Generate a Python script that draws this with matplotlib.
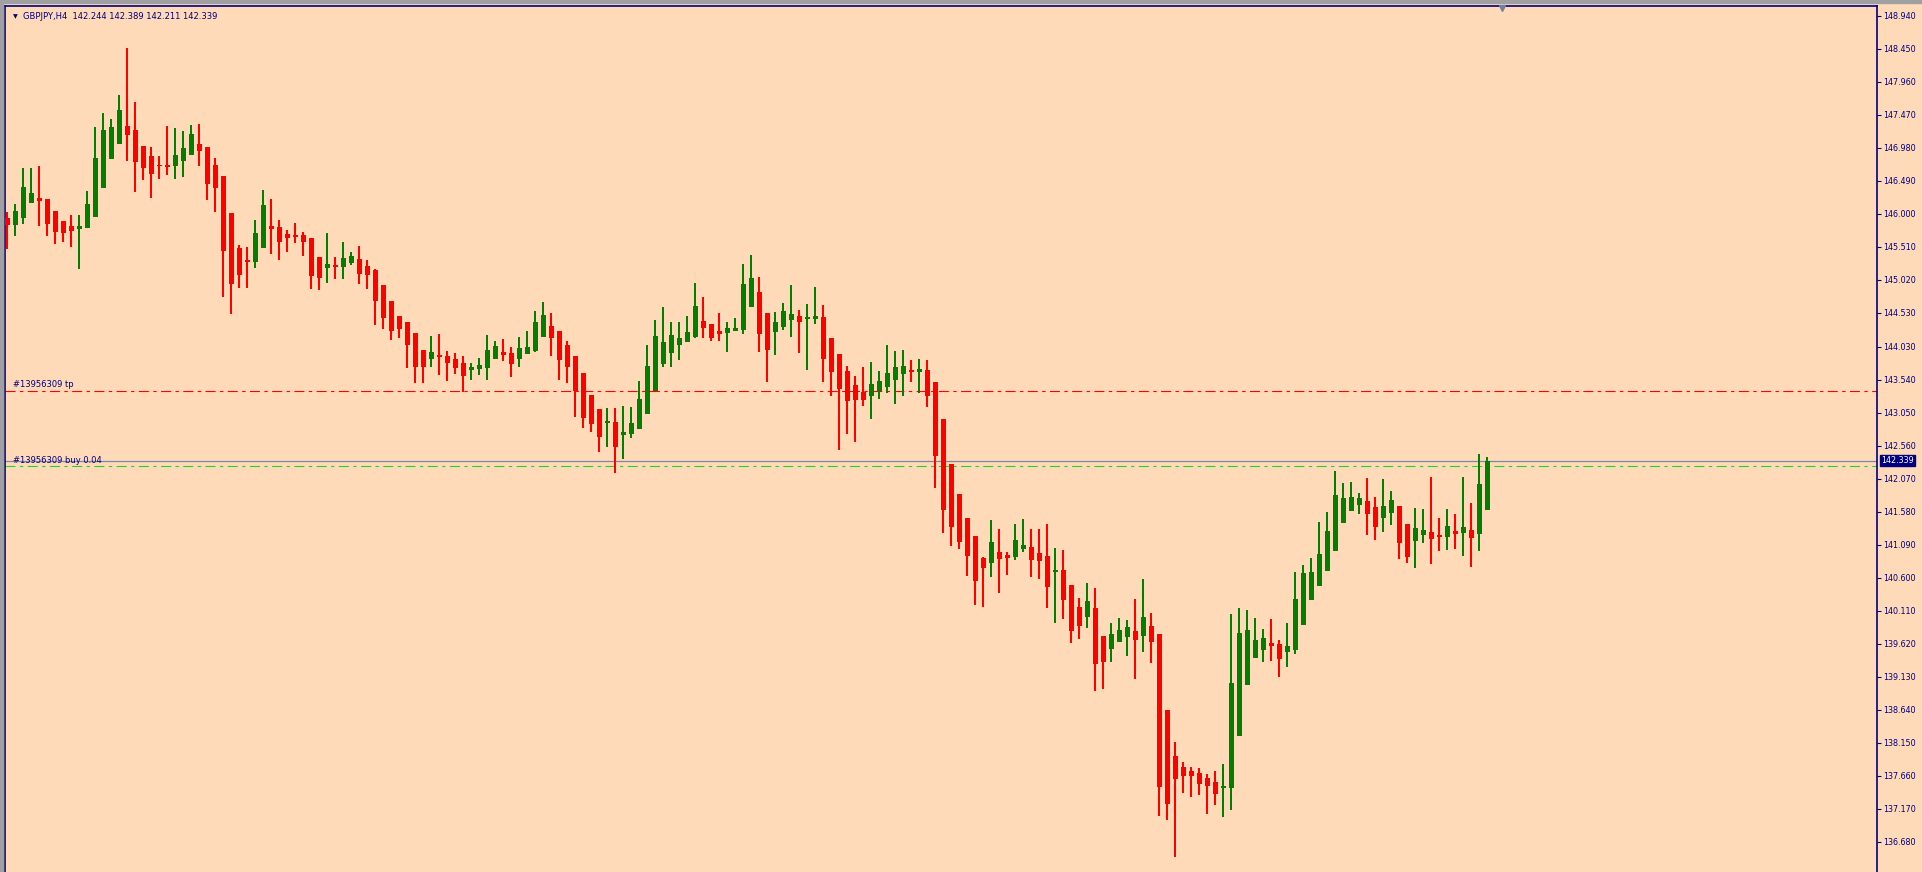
import matplotlib
matplotlib.use("Agg")
import matplotlib.pyplot as plt
import matplotlib.transforms as mtransforms
from matplotlib.patches import Rectangle
import numpy as np

# GBPJPY H4 candles
opens = [
    145.936, 145.837, 145.946, 146.168, 146.238, 146.223, 146.045, 145.896, 145.822, 145.777,
    145.797, 145.961, 146.391, 146.822, 147.044, 147.307, 147.247, 147.010, 146.861, 146.733,
    146.733, 146.718, 146.792, 146.881, 147.039, 146.995, 146.728, 146.564, 146.015, 145.495,
    145.307, 145.292, 145.500, 145.822, 145.807, 145.703, 145.688, 145.688, 145.644, 145.362,
    145.203, 145.243, 145.218, 145.278, 145.332, 145.228, 145.169, 144.946, 144.709, 144.486,
    144.397, 144.234, 143.981, 143.853, 143.907, 143.892, 143.848, 143.788, 143.689, 143.699,
    143.719, 143.853, 143.952, 143.937, 143.853, 143.927, 143.971, 144.174, 144.338, 144.263,
    144.056, 143.892, 143.640, 143.313, 143.105, 142.902, 142.912, 142.724, 142.739, 142.813,
    143.036, 143.378, 143.778, 143.942, 144.061, 144.105, 144.179, 144.411, 144.367, 144.263,
    144.238, 144.268, 144.283, 144.624, 144.842, 144.530, 144.253, 144.327, 144.431, 144.486,
    144.446, 144.446, 144.471, 144.159, 143.921, 143.669, 143.461, 143.357, 143.303, 143.377,
    143.436, 143.540, 143.629, 143.684, 143.659, 143.684, 143.510, 142.956, 142.288, 141.842,
    141.486, 141.219, 140.892, 140.823, 140.981, 140.937, 140.912, 141.031, 141.056, 140.966,
    140.922, 140.689, 140.714, 140.491, 140.165, 140.021, 140.150, 139.735, 139.547, 139.651,
    139.725, 139.809, 139.740, 139.883, 139.764, 138.636, 137.953, 137.790, 137.730, 137.701,
    137.626, 137.572, 137.483, 137.483, 138.255, 139.012, 139.413, 139.532, 139.631, 139.616,
    139.502, 139.532, 139.903, 140.274, 140.482, 140.705, 141.002, 141.418, 141.596, 141.685,
    141.739, 141.650, 141.492, 141.566, 141.665, 141.398, 141.150, 141.239, 141.279, 141.235,
    141.210, 141.294, 141.269, 141.309, 141.254, 141.611,
]
highs = [
    146.035, 146.154, 146.688, 146.688, 146.718, 146.223, 146.045, 145.896, 145.985, 145.985,
    146.342, 147.292, 147.500, 147.411, 147.767, 148.465, 147.663, 147.010, 146.995, 146.861,
    147.307, 147.277, 147.232, 147.321, 147.336, 146.995, 146.832, 146.564, 146.015, 145.540,
    145.510, 145.911, 146.357, 146.223, 145.911, 145.763, 145.866, 145.733, 145.644, 145.362,
    145.718, 145.362, 145.584, 145.436, 145.525, 145.317, 145.183, 144.946, 144.709, 144.486,
    144.397, 144.234, 143.981, 144.189, 144.219, 143.966, 143.937, 143.892, 143.788, 143.863,
    144.204, 144.115, 144.145, 144.026, 144.174, 144.263, 144.560, 144.694, 144.531, 144.263,
    144.115, 143.892, 143.640, 143.313, 143.105, 143.120, 143.120, 143.150, 143.135, 143.521,
    144.056, 144.427, 144.620, 144.397, 144.397, 144.486, 144.976, 144.768, 144.367, 144.530,
    144.397, 144.456, 145.258, 145.391, 145.065, 144.530, 144.545, 144.679, 144.946, 144.575,
    144.664, 144.916, 144.649, 144.159, 143.921, 143.743, 143.595, 143.728, 143.803, 143.669,
    144.055, 143.966, 143.981, 143.832, 143.847, 143.832, 143.510, 142.956, 142.288, 141.842,
    141.486, 141.219, 140.907, 141.456, 141.323, 140.981, 141.397, 141.471, 141.323, 141.323,
    141.397, 141.041, 141.011, 140.491, 140.298, 140.521, 140.447, 139.735, 139.928, 140.002,
    139.972, 140.284, 140.581, 140.076, 139.764, 138.636, 138.161, 137.864, 137.790, 137.775,
    137.686, 137.735, 137.834, 140.061, 140.150, 140.121, 140.002, 139.839, 139.987, 139.676,
    139.928, 140.685, 140.789, 140.893, 141.428, 141.576, 142.185, 142.007, 142.021, 141.858,
    142.081, 141.799, 142.066, 141.888, 141.665, 141.398, 141.635, 141.620, 142.096, 141.487,
    141.620, 141.546, 142.096, 141.710, 142.437, 142.389,
]
lows = [
    145.476, 145.679, 145.857, 146.163, 145.827, 145.679, 145.560, 145.589, 145.515, 145.188,
    145.797, 145.961, 146.391, 146.822, 147.044, 146.792, 146.332, 146.510, 146.243, 146.525,
    146.584, 146.525, 146.554, 146.881, 146.718, 146.213, 146.035, 144.773, 144.520, 144.906,
    144.906, 145.203, 145.500, 145.411, 145.322, 145.441, 145.574, 145.381, 144.892, 144.877,
    144.981, 145.040, 145.040, 145.248, 144.966, 144.892, 144.357, 144.293, 144.130, 144.164,
    143.719, 143.496, 143.496, 143.734, 143.615, 143.526, 143.630, 143.363, 143.541, 143.615,
    143.541, 143.853, 143.823, 143.585, 143.734, 143.927, 143.957, 144.174, 143.897, 143.541,
    143.496, 142.992, 142.828, 142.769, 142.472, 142.546, 142.160, 142.368, 142.680, 142.813,
    143.036, 143.378, 143.734, 143.734, 143.838, 144.105, 144.164, 144.164, 144.119, 144.119,
    143.956, 144.268, 144.223, 144.624, 143.956, 143.511, 143.912, 144.283, 144.179, 143.941,
    143.689, 144.372, 143.511, 143.303, 142.501, 142.739, 142.620, 143.154, 142.961, 143.258,
    143.347, 143.184, 143.303, 143.511, 143.347, 143.139, 141.936, 141.268, 141.075, 141.031,
    140.630, 140.199, 140.170, 140.615, 140.377, 140.645, 140.867, 140.986, 140.615, 140.585,
    140.155, 139.932, 139.992, 139.635, 139.695, 139.858, 138.923, 138.953, 139.354, 139.651,
    139.443, 139.101, 139.502, 139.339, 137.067, 137.008, 136.458, 137.409, 137.349, 137.379,
    137.097, 137.230, 137.052, 137.156, 138.255, 139.012, 139.413, 139.354, 139.369, 139.131,
    139.280, 139.473, 139.903, 140.274, 140.482, 140.705, 141.002, 141.418, 141.596, 141.551,
    141.239, 141.165, 141.284, 141.388, 140.883, 140.824, 140.749, 141.121, 140.809, 141.002,
    141.017, 141.032, 140.928, 140.764, 141.002, 141.611,
]
closes = [
    145.837, 146.045, 146.401, 146.312, 146.193, 145.857, 145.738, 145.723, 145.753, 145.822,
    146.149, 146.832, 147.247, 147.292, 147.544, 147.178, 146.777, 146.688, 146.599, 146.713,
    146.703, 146.876, 146.980, 147.188, 146.940, 146.450, 146.391, 145.456, 144.961, 145.095,
    145.292, 145.718, 146.134, 145.777, 145.589, 145.649, 145.664, 145.589, 145.085, 145.055,
    145.258, 145.218, 145.347, 145.377, 145.114, 145.100, 144.713, 144.461, 144.268, 144.298,
    144.056, 143.734, 143.734, 143.952, 143.877, 143.793, 143.719, 143.600, 143.729, 143.759,
    143.981, 144.041, 143.907, 143.778, 144.011, 144.026, 144.397, 144.501, 144.164, 143.838,
    143.734, 143.378, 142.977, 142.888, 142.695, 142.927, 142.546, 142.764, 142.898, 143.254,
    143.744, 144.189, 144.100, 144.204, 144.160, 144.249, 144.635, 144.312, 144.164, 144.223,
    144.307, 144.307, 144.961, 145.050, 144.223, 143.986, 144.397, 144.560, 144.515, 144.401,
    144.461, 144.486, 143.852, 143.659, 143.407, 143.229, 143.243, 143.243, 143.476, 143.521,
    143.639, 143.728, 143.748, 143.649, 143.699, 143.303, 142.407, 141.610, 141.357, 141.135,
    140.927, 140.556, 140.749, 141.130, 140.882, 140.897, 141.159, 141.085, 140.867, 140.853,
    140.467, 140.714, 140.274, 139.813, 139.888, 140.254, 139.324, 139.354, 139.764, 139.824,
    139.868, 139.680, 140.017, 139.651, 137.498, 137.245, 137.617, 137.661, 137.661, 137.542,
    137.513, 137.394, 137.498, 139.037, 139.779, 139.824, 139.675, 139.705, 139.591, 139.393,
    139.586, 140.284, 140.670, 140.685, 140.952, 141.294, 141.828, 141.784, 141.799, 141.784,
    141.551, 141.358, 141.665, 141.754, 141.121, 140.913, 141.338, 141.309, 141.180, 141.210,
    141.368, 141.254, 141.353, 141.195, 141.992, 142.339,
]

symbol = "GBPJPY,H4"
header_ohlc = ["142.244", "142.389", "142.211", "142.339"]
tp_price = 143.377
buy_price = 142.258
bid_price = 142.339
order_id = "#13956309"
y_ticks = [148.940, 148.450, 147.960, 147.470, 146.980, 146.490, 146.000, 145.510, 145.020,
           144.530, 144.030, 143.540, 143.050, 142.560, 142.070, 141.580, 141.090, 140.600,
           140.110, 139.620, 139.130, 138.640, 138.150, 137.660, 137.170, 136.680]

BG = "#FFDAB9"
NAVY = "#000080"
BULL = "#008000"
BEAR = "#FF0000"

fig = plt.figure(figsize=(19.22, 8.72), dpi=100)
fig.patch.set_facecolor(BG)
# window frame strips
fig.patches.append(Rectangle((0, 0), 3 / 1922, 1, transform=fig.transFigure, color="#A0A0A0", zorder=0))
fig.patches.append(Rectangle((0, 1 - 3 / 872), 1, 3 / 872, transform=fig.transFigure, color="#A0A0A0", zorder=0))

ax = fig.add_axes([5 / 1922, 0, 1872 / 1922, 866 / 872])
ax.set_facecolor(BG)

o = np.array(opens)
h = np.array(highs)
l = np.array(lows)
c = np.array(closes)
x = np.arange(len(o))
up = c >= o
colors = np.where(up, BULL, BEAR)

ax.vlines(x, l, h, colors=colors, linewidth=1.2, antialiased=False, zorder=3)
body_lo = np.minimum(o, c)
body_h = np.maximum(np.abs(c - o), 0.02)
ax.bar(x, body_h, bottom=body_lo, width=0.62, color=colors, linewidth=0, antialiased=False, zorder=4)

# order lines
ax.axhline(tp_price, color="#FF0000", linewidth=0.8, dashes=(9, 4, 3, 4), zorder=2)
ax.axhline(bid_price, color="#7A8AA0", linewidth=0.9, zorder=2)
ax.axhline(buy_price, color="#1ED81E", linewidth=0.8, dashes=(9, 4, 3, 4), zorder=2)

ax.text(0.7, tp_price + 0.03, order_id + " tp", color=NAVY, fontsize=6, va="bottom", ha="left")
ax.text(0.7, buy_price + 0.02, order_id + " buy 0.04", color=NAVY, fontsize=6, va="bottom", ha="left")

ax.set_xlim(-0.29, 233.7)
ax.set_ylim(136.230, 149.088)

ax.yaxis.tick_right()
ax.set_yticks(y_ticks)
ax.set_yticklabels([f"{v:.3f}" for v in y_ticks])
ax.tick_params(axis="y", colors=NAVY, labelcolor=NAVY, labelsize=5.8, length=3, width=0.8, pad=1.5)
ax.set_xticks([])
for side in ["left", "top", "right"]:
    ax.spines[side].set_color(NAVY)
    ax.spines[side].set_linewidth(1.2)
ax.spines["bottom"].set_visible(False)

# current price tag on the axis
trans = mtransforms.blended_transform_factory(ax.transAxes, ax.transData)
ax.text(1.002, bid_price, f"{bid_price:.3f}", transform=trans, color="white", fontsize=5.8,
        va="center", ha="left", zorder=6,
        bbox=dict(boxstyle="square,pad=0.15", facecolor=NAVY, edgecolor=NAVY))

# header
ax.text(0.0045, 0.988, "\u25bc", transform=ax.transAxes, color=NAVY, fontsize=4.5, va="center", ha="left")
ax.text(0.0095, 0.988, symbol + "  " + " ".join(header_ohlc), transform=ax.transAxes,
        color=NAVY, fontsize=6, va="center", ha="left")

# chart shift marker
ax.plot([0.7997], [0.998], marker="v", markersize=5, color="#7080A0", transform=ax.transAxes,
        clip_on=False, zorder=6)

fig.savefig("out.png", dpi=100, facecolor=BG)
